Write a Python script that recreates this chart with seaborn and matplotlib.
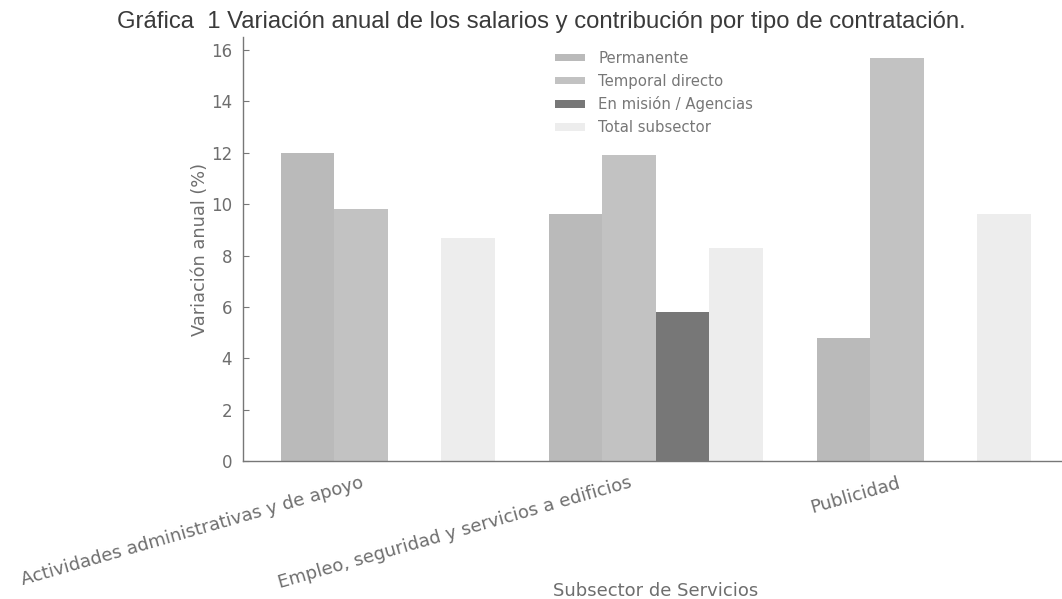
import numpy as np
import pandas as pd
import matplotlib
matplotlib.use("Agg")
import matplotlib.pyplot as plt
import seaborn as sns

subsectores = ["Actividades administrativas y de apoyo",
               "Empleo, seguridad y servicios a edificios",
               "Publicidad"]
tipos = ["Permanente", "Temporal directo", "En misión / Agencias", "Total subsector"]
permanente = [12.0, 9.6, 4.8]
temporal = [9.8, 11.9, 15.7]
mision = [np.nan, 5.8, np.nan]
total = [8.7, 8.3, 9.6]
colores = ["#bababa", "#c2c2c2", "#777777", "#ededed"]

rows = []
for serie, vals in zip(tipos, [permanente, temporal, mision, total]):
    for s, v in zip(subsectores, vals):
        rows.append({"Subsector": s, "Tipo": serie, "Valor": v})
df = pd.DataFrame(rows)

sns.set_style("white")
plt.rcParams["font.family"] = ["DejaVu Sans"]

fig = plt.figure(figsize=(10.62, 5.99), dpi=100)
ax = fig.add_axes([0.229, 0.230, 0.777, 0.708])

sns.barplot(data=df, x="Subsector", y="Valor", hue="Tipo", hue_order=tipos,
            palette=colores, saturation=1, width=0.8, linewidth=0, ax=ax,
            errorbar=None)

ax.set_xticks(np.arange(len(subsectores)) - 0.1)
ax.set_xticklabels(subsectores, rotation=16, ha="right", rotation_mode="anchor",
                   fontsize=13, color="#6e6e6e")
ax.set_xlim(-0.54, 2.54)
ax.set_ylim(0, 16.5)
ax.set_yticks(np.arange(0, 17, 2))
ax.tick_params(axis="y", direction="in", length=4, labelsize=12, labelcolor="#6e6e6e",
               color="#777777", left=True, pad=8)
ax.tick_params(axis="x", direction="in", length=4, color="#555555", bottom=True, pad=9)
for sp in ["top", "right"]:
    ax.spines[sp].set_visible(False)
for sp in ["left", "bottom"]:
    ax.spines[sp].set_color("#777777")
    ax.spines[sp].set_linewidth(1.0)

ax.set_ylabel("Variación anual (%)", fontsize=12.8, color="#6e6e6e", labelpad=1)
ax.set_xlabel("Subsector de Servicios", fontsize=13, color="#6e6e6e")
ax.xaxis.set_label_coords(0.5, -0.285)

leg = ax.legend(loc="upper left", bbox_to_anchor=(0.5226, 0.915),
                bbox_transform=fig.transFigure, frameon=False, fontsize=10.7,
                handlelength=2.0, handleheight=0.4, labelspacing=0.52,
                borderpad=0, borderaxespad=0, handletextpad=0.9)
for t in leg.get_texts():
    t.set_color("#777777")

fig.text(0.51, 0.963, "Gráfica  1 Variación anual de los salarios y contribución por tipo de contratación.",
         ha="center", va="center", fontsize=17.2, color="#3a3a3a", family="Liberation Sans")

fig.savefig("out.png", dpi=100)
